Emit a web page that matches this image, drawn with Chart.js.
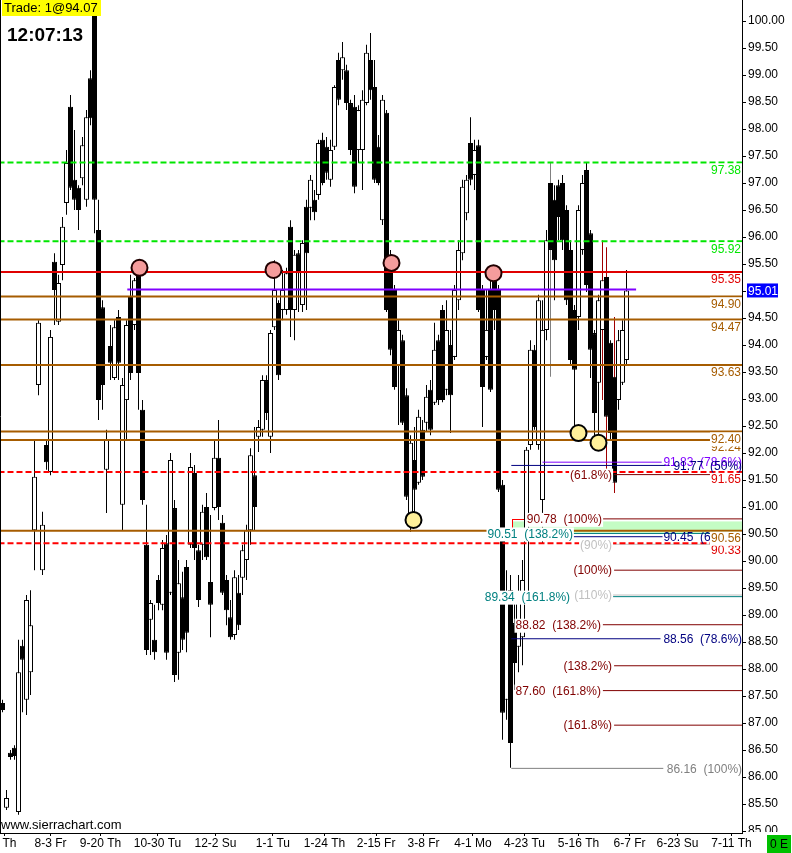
<!DOCTYPE html>
<html>
<head>
<meta charset="utf-8">
<title>Trade chart</title>
<script src="https://cdn.jsdelivr.net/npm/chart.js@4.4.1/dist/chart.umd.min.js"></script>
<style>
  html, body { margin: 0; padding: 0; background: #ffffff; }
  #wrap { position: relative; width: 792px; height: 853px; }
  canvas { display: block; }
</style>
</head>
<body>
<div id="wrap"><canvas id="priceChart" width="792" height="853"></canvas></div>
<script>
'use strict';

/* ── Bars (one per slot, left to right) ───── */
const HIGH = [
  87.43, 85.76, 86.50, 86.59, 88.54, 88.54, 89.37, 89.46, 92.24, 94.46,
  90.91, 92.24, 94.28, 95.70, 95.30, 96.37, 97.61, 98.63, 97.98, 96.96,
  97.85, 98.35, 99.09, 100.39, 96.69, 94.83, 92.43, 94.37, 94.46, 94.65,
  93.39, 94.46, 95.30, 95.24, 95.54, 92.98, 91.04, 89.28, 89.19, 89.74,
  90.39, 90.48, 92.00, 91.13, 90.02, 89.80, 90.02, 92.00, 91.78, 90.30,
  91.04, 91.26, 90.85, 92.24, 92.61, 90.85, 89.74, 89.28, 89.83, 89.74,
  90.30, 90.67, 92.09, 92.48, 92.61, 93.44, 93.44, 94.28, 95.57, 94.83,
  95.39, 95.43, 96.31, 95.76, 95.76, 95.94, 96.69, 97.15, 96.87, 97.80,
  97.93, 97.85, 97.80, 98.81, 99.41, 99.61, 99.19, 98.54, 98.63, 98.44,
  98.72, 99.56, 99.78, 99.28, 97.89, 98.63, 98.35, 95.76, 95.11, 94.46,
  94.19, 93.20, 92.33, 92.48, 92.80, 92.61, 93.26, 93.35, 94.41, 94.19,
  94.74, 94.83, 94.28, 95.11, 95.94, 97.06, 97.15, 98.22, 97.80, 97.80,
  95.11, 95.02, 95.30, 95.48, 95.11, 91.50, 89.83, 89.74, 89.28, 89.74,
  90.02, 92.11, 94.09, 94.00, 94.93, 94.83, 96.13, 97.39, 96.96, 97.06,
  97.15, 96.59, 95.94, 94.74, 96.59, 97.15, 97.39, 96.13, 94.28, 94.93,
  95.94, 95.81, 94.09, 94.52, 94.28, 94.46, 95.39
];
const LOW = [
  87.20, 85.39, 86.32, 86.32, 85.30, 87.20, 87.15, 87.52, 89.83, 93.07,
  89.74, 91.69, 91.59, 94.37, 94.37, 95.20, 96.41, 96.87, 96.50, 96.13,
  96.96, 96.56, 98.07, 96.07, 92.61, 92.80, 90.89, 93.35, 93.35, 93.35,
  90.57, 92.24, 93.35, 94.28, 92.80, 91.04, 88.26, 88.26, 88.17, 89.09,
  89.09, 88.17, 89.37, 87.76, 87.80, 88.35, 88.31, 90.24, 90.02, 89.15,
  90.02, 90.02, 88.59, 90.94, 90.76, 89.37, 88.81, 88.54, 88.54, 88.72,
  89.37, 89.65, 90.30, 90.57, 92.02, 92.30, 92.61, 92.00, 94.28, 93.35,
  94.46, 94.56, 94.15, 94.09, 94.61, 94.61, 94.65, 96.31, 96.31, 96.69,
  96.96, 97.06, 96.93, 97.61, 98.44, 98.91, 98.35, 97.52, 96.81, 97.37,
  96.87, 98.44, 98.54, 97.00, 96.96, 96.22, 94.61, 93.81, 93.17, 92.52,
  92.52, 91.13, 90.54, 90.76, 91.41, 91.50, 92.39, 92.33, 92.89, 92.89,
  92.94, 93.07, 92.37, 93.72, 94.65, 95.57, 96.31, 96.96, 96.87, 94.61,
  92.48, 93.72, 93.13, 94.28, 91.28, 86.69, 87.06, 86.17, 87.61, 87.94,
  88.07, 89.28, 92.06, 92.43, 92.06, 90.33, 94.09, 93.41, 94.83, 95.94,
  95.76, 94.74, 93.63, 92.37, 94.28, 95.67, 94.98, 93.39, 92.24, 92.19,
  92.98, 91.69, 92.24, 91.26, 92.80, 93.26, 93.63
];
const OPEN = [
  87.37, 85.43, 86.45, 86.54, 85.35, 88.43, 87.43, 87.94, 90.57, 93.26,
  89.83, 92.15, 91.65, 95.54, 94.43, 95.48, 96.63, 98.41, 97.06, 96.91,
  97.09, 96.69, 98.94, 100.11, 96.13, 94.70, 91.69, 93.98, 93.39, 94.52,
  91.04, 92.98, 94.89, 94.37, 95.45, 92.80, 90.30, 88.91, 88.54, 89.65,
  89.19, 90.33, 89.41, 90.98, 88.30, 89.33, 89.89, 90.30, 91.63, 90.20,
  90.30, 91.00, 89.61, 90.98, 91.91, 90.71, 89.65, 88.96, 88.63, 89.41,
  89.69, 90.02, 90.57, 91.59, 92.30, 92.43, 93.35, 92.30, 94.33, 94.78,
  94.65, 94.65, 96.19, 94.65, 95.70, 94.74, 96.56, 96.54, 96.69, 96.78,
  97.80, 97.67, 97.06, 97.67, 99.28, 99.09, 99.09, 98.48, 98.41, 97.61,
  97.61, 98.48, 99.28, 98.78, 97.67, 96.31, 98.30, 95.57, 95.02, 93.63,
  94.09, 93.07, 90.67, 91.87, 91.45, 92.43, 92.56, 93.17, 92.93, 94.09,
  94.65, 93.17, 94.00, 93.78, 94.83, 95.70, 96.44, 97.74, 97.15, 97.70,
  95.02, 93.78, 95.02, 95.33, 95.02, 91.41, 87.43, 89.46, 88.85, 88.41,
  88.59, 89.37, 92.15, 93.91, 92.15, 91.13, 94.28, 97.00, 96.69, 96.96,
  97.00, 96.50, 95.76, 94.65, 94.52, 95.76, 97.24, 96.07, 94.22, 93.30,
  94.28, 95.26, 94.04, 93.41, 92.98, 93.30, 93.72
];
const CLOSE = [
  87.24, 85.61, 86.37, 86.39, 87.94, 88.17, 89.28, 88.81, 91.56, 94.41,
  90.67, 91.83, 94.15, 95.02, 95.15, 96.19, 97.37, 96.91, 96.69, 96.50,
  97.70, 98.22, 98.20, 96.69, 92.98, 93.26, 92.24, 93.67, 94.33, 93.67,
  93.26, 94.37, 93.48, 95.20, 93.48, 91.13, 88.35, 89.22, 88.31, 89.22,
  90.24, 88.30, 91.87, 87.89, 89.59, 88.54, 88.67, 91.74, 90.24, 89.28,
  90.91, 90.07, 89.19, 91.91, 91.00, 89.41, 89.09, 88.59, 89.70, 88.81,
  90.20, 90.57, 91.96, 91.00, 92.48, 93.35, 92.74, 94.22, 95.02, 93.44,
  95.02, 95.33, 94.65, 95.67, 95.33, 95.89, 95.70, 97.06, 96.46, 97.74,
  97.00, 97.19, 97.61, 98.78, 98.54, 99.33, 98.48, 97.61, 96.93, 98.35,
  98.54, 99.41, 98.72, 97.06, 97.00, 98.54, 94.65, 93.91, 93.22, 94.28,
  92.56, 91.19, 92.19, 91.32, 92.67, 91.56, 93.04, 92.43, 93.91, 92.98,
  92.98, 94.28, 93.07, 95.02, 95.76, 96.93, 97.06, 97.06, 97.61, 94.65,
  93.22, 94.28, 93.17, 94.65, 91.32, 87.19, 89.28, 86.63, 88.11, 89.33,
  89.65, 92.06, 93.91, 92.48, 94.83, 94.28, 95.94, 95.76, 95.57, 96.37,
  95.94, 94.83, 93.72, 93.54, 96.50, 97.00, 95.11, 93.91, 92.74, 94.83,
  95.20, 92.67, 92.37, 91.45, 94.09, 94.28, 95.01
];
const RED_WICK_BARS  = [150, 151, 153];
const GRAY_WICK_BARS = [137];

/* ── Date axis ────────────────────────────── */
const DATE_TICKS  = [0.5, 12, 24.5, 38.75, 53.25, 67.6, 80.5, 93.4, 105.25, 117.6, 130.5, 144, 156.75, 168.75, 182.25];
const DATE_LABELS = ['7 Th', '8-3 Fr', '9-20 Th', '10-30 Tu', '12-2 Su', '1-1 Tu', '1-24 Th', '2-15 Fr', '3-8 Fr', '4-1 Mo', '4-23 Tu', '5-16 Th', '6-7 Fr', '6-23 Su', '7-11 Th'];

/* ── Horizontal levels (full width) ───────── */
const LEVEL_PRICE = [97.38, 95.92, 95.35, 94.90, 94.47, 93.63, 92.40, 92.24, 91.65, 90.56, 90.33];
const LEVEL_KIND  = ['green', 'green', 'red', 'brown', 'brown', 'brown', 'brown', 'brown', 'redDash', 'brown', 'redDash'];

const LAST_PRICE   = 95.01;
const PURPLE_LEVEL = 95.03;

/* ── Fibonacci projections ────────────────── */
const FIB_PRICE = [91.83, 91.77, 91.60, 90.78, 90.51, 90.45, 90.31, 89.83, 89.37, 89.34, 88.82, 88.56, 88.06, 87.60, 86.96, 86.16];
const FIB_TEXT  = ['91.83  (78.6%)', '91.77  (50%)', '(61.8%)', '90.78  (100%)', '90.51  (138.2%)', '90.45  (61.8%)',
                   '(90%)', '(100%)', '(110%)', '89.34  (161.8%)', '88.82  (138.2%)', '88.56  (78.6%)',
                   '(138.2%)', '87.60  (161.8%)', '(161.8%)', '86.16  (100%)'];
const ZONE_TOP = 90.77, ZONE_BOTTOM = 90.54, ZONE_FROM = 127.4;

/* ── Marked touches ───────────────────────── */
const PINK_AT   = [34.25, 67.75, 97.25, 122.75];
const PINK_VAL  = [95.43, 95.39, 95.52, 95.33];
const YELLOW_AT  = [102.75, 144, 149];
const YELLOW_VAL = [90.76, 92.37, 92.19];

/* ── Styles ───────────────────────────────── */
const FONT = "'Liberation Sans', Arial, sans-serif";
const C = {
  green: '#00e600', red: '#e00000', brown: '#a65c00', purple: '#8000ff',
  navy: '#000080', darkRed: '#800000', teal: '#008080', silver: '#c0c0c0', gray: '#808080'
};
const LEVEL_STYLE = {
  green:   { color: C.green, dash: [6, 3] },
  red:     { color: C.red,   dash: [] },
  brown:   { color: C.brown, dash: [] },
  redDash: { color: '#ff0000', dash: [6, 3] },
};
const LEVEL_TEXT_COLOR = { green: C.green, red: C.red, brown: C.brown, redDash: C.red };

// per fib line: colour, line start, line end, text right edge (x in bar slots), white box behind text
const FIB_STYLE = [
  { color: C.purple,  from: 135.0, to: 164.8, textEnd: 184.9, box: false },
  { color: C.navy,    from: 127.2, to: 166.8, textEnd: 184.9, box: false },
  { color: C.darkRed, from: 152.9, to: 185,   textEnd: 152.4, box: true },
  { color: C.darkRed, from: 149.9, to: 185,   textEnd: 149.9, box: true },
  { color: C.teal,    from: 142.6, to: 185,   textEnd: 142.6, box: true },
  { color: C.navy,    from: 127.4, to: 165.0, textEnd: 184.9, box: false },
  { color: C.silver,  from: 152.6, to: 185,   textEnd: 152.4, box: true },
  { color: C.darkRed, from: 152.9, to: 185,   textEnd: 152.4, box: true },
  { color: C.silver,  from: 152.6, to: 185,   textEnd: 152.4, box: true },
  { color: C.teal,    from: 152.6, to: 185,   textEnd: 141.9, box: true },
  { color: C.darkRed, from: 150.1, to: 185,   textEnd: 149.6, box: true },
  { color: C.navy,    from: 127.2, to: 164.5, textEnd: 184.9, box: false },
  { color: C.darkRed, from: 152.9, to: 185,   textEnd: 152.4, box: true },
  { color: C.darkRed, from: 150.1, to: 185,   textEnd: 149.6, box: true },
  { color: C.darkRed, from: 152.9, to: 185,   textEnd: 152.4, box: true },
  { color: C.gray,    from: 127.2, to: 165.2, textEnd: 184.9, box: false },
];

/* ── Helpers ──────────────────────────────── */
function hLine(price, from, to, color, width, dash) {
  return {
    type: 'line',
    data: [{ x: from, y: price }, { x: to, y: price }],
    borderColor: color, borderWidth: width, borderDash: dash || [],
    pointRadius: 0, fill: false, order: 5,
  };
}
function wickColor(i) {
  if (RED_WICK_BARS.includes(i)) return '#a00000';
  if (GRAY_WICK_BARS.includes(i)) return '#808080';
  return '#000000';
}
function textBox(ctx, text, xRight, yMid, color, box) {
  const w = ctx.measureText(text).width;
  if (box) {
    ctx.fillStyle = '#ffffff';
    ctx.fillRect(xRight - w - 1, yMid - 7, w + 2, 14);
  }
  ctx.fillStyle = color;
  ctx.fillText(text, xRight, yMid);
}

/* ── Overlay drawing ──────────────────────── */
const overlay = {
  id: 'overlay',
  beforeDatasetsDraw(chart) {
    const { ctx, scales: { x, y }, chartArea } = chart;
    ctx.save();
    const x0 = x.getPixelForValue(ZONE_FROM);
    const yT = y.getPixelForValue(ZONE_TOP), yB = y.getPixelForValue(ZONE_BOTTOM);
    ctx.fillStyle = '#c4fcc4';
    ctx.fillRect(x0, yT + 2, chartArea.right - x0, yB - yT - 1);
    ctx.strokeStyle = '#ff0000';
    ctx.lineWidth = 1;
    ctx.strokeRect(Math.round(x0) + 0.5, Math.round(yT) + 0.5, 13, Math.round(y.getPixelForValue(90.45) - yT));
    ctx.restore();
  },
  afterDatasetsDraw(chart) {
    const { ctx, scales: { x, y }, chartArea } = chart;
    ctx.save();
    ctx.font = `12px ${FONT}`;
    ctx.textAlign = 'right';
    ctx.textBaseline = 'middle';
    FIB_PRICE.forEach((p, k) => {
      const s = FIB_STYLE[k];
      textBox(ctx, FIB_TEXT[k], x.getPixelForValue(s.textEnd), y.getPixelForValue(p) + 1, s.color, s.box);
    });
    // price labels under each level, drawn low to high
    LEVEL_PRICE.map((p, k) => k).sort((a, b) => LEVEL_PRICE[a] - LEVEL_PRICE[b]).forEach(k => {
      const p = LEVEL_PRICE[k];
      textBox(ctx, p.toFixed(2), chartArea.right - 1, y.getPixelForValue(p) + 8,
        LEVEL_TEXT_COLOR[LEVEL_KIND[k]], true);
    });
    ctx.restore();
  },
  afterDraw(chart) {
    const { ctx, scales: { y }, chartArea } = chart;
    ctx.save();
    // left frame line
    ctx.strokeStyle = '#000';
    ctx.lineWidth = 1;
    ctx.beginPath(); ctx.moveTo(0.5, 0); ctx.lineTo(0.5, chartArea.bottom); ctx.stroke();

    // price scale is cut at the bottom of the plot (keep the last date label)
    ctx.fillStyle = '#ffffff';
    ctx.fillRect(chartArea.right + 4, chartArea.bottom - 1, 50, 5);
    ctx.fillRect(chartArea.right + 13, chartArea.bottom - 1, 40, 22);

    ctx.textBaseline = 'middle';
    ctx.textAlign = 'left';
    // trade box
    ctx.font = `13px ${FONT}`;
    ctx.fillStyle = '#ffff00';
    ctx.fillRect(2, 0, 99, 16);
    ctx.fillStyle = '#000';
    ctx.fillText('Trade: 1@94.07', 4, 8);
    // clock
    ctx.font = `bold 19px ${FONT}`;
    ctx.fillText('12:07:13', 7, 36);
    // watermark
    ctx.font = `13px ${FONT}`;
    ctx.fillText('www.sierrachart.com', 1, 825);

    // last price box on the axis
    const yp = y.getPixelForValue(LAST_PRICE);
    ctx.fillStyle = '#0000ff';
    ctx.fillRect(747, yp - 7, 31, 14);
    ctx.fillStyle = '#ffffff';
    ctx.font = `12px ${FONT}`;
    ctx.fillText(LAST_PRICE.toFixed(2), 748, yp + 1);

    // status box
    ctx.fillStyle = '#00c000';
    ctx.fillRect(767, 835, 24, 18);
    ctx.fillStyle = '#000';
    ctx.textAlign = 'center';
    ctx.fillText('0 E', 779, 845);
    ctx.restore();
  },
};

/* ── Datasets ─────────────────────────────── */
const slots = HIGH.map((_, i) => i);

const datasets = [
  {
    type: 'line', showLine: false, order: 1,
    data: PINK_AT.map((v, k) => ({ x: v, y: PINK_VAL[k] })),
    pointRadius: 8, pointBackgroundColor: '#f59c9c', pointBorderColor: '#200000', pointBorderWidth: 2,
  },
  {
    type: 'line', showLine: false, order: 1,
    data: YELLOW_AT.map((v, k) => ({ x: v, y: YELLOW_VAL[k] })),
    pointRadius: 8, pointBackgroundColor: '#fff09a', pointBorderColor: '#000000', pointBorderWidth: 2,
  },
  ...LEVEL_PRICE.map((p, k) => {
    const st = LEVEL_STYLE[LEVEL_KIND[k]];
    return hLine(p, -1, 186, st.color, 2, st.dash);
  }),
  hLine(PURPLE_LEVEL, 31.2, 158.4, C.purple, 2),
  ...FIB_PRICE.map((p, k) => hLine(p, FIB_STYLE[k].from, FIB_STYLE[k].to, FIB_STYLE[k].color, 1)),
  {
    type: 'bar', order: 10, grouped: false,
    data: slots.map(i => ({ x: i, y: [LOW[i], HIGH[i]] })),
    backgroundColor: slots.map(wickColor),
    borderWidth: 0, barThickness: 1, inflateAmount: 0,
  },
  {
    type: 'bar', order: 9, grouped: false,
    data: slots.map(i => ({ x: i, y: [OPEN[i], CLOSE[i]] })),
    backgroundColor: slots.map(i => CLOSE[i] >= OPEN[i] ? '#ffffff' : '#000000'),
    borderColor: '#000000', borderWidth: 1, borderSkipped: false,
    barThickness: 5, inflateAmount: 0, minBarLength: 1,
  },
];

/* ── Chart ────────────────────────────────── */
new Chart(document.getElementById('priceChart').getContext('2d'), {
  type: 'bar',
  data: { datasets },
  plugins: [overlay],
  options: {
    responsive: false,
    animation: false,
    devicePixelRatio: 1,
    events: [],
    layout: { padding: 0, autoPadding: false },
    plugins: { legend: { display: false }, tooltip: { enabled: false } },
    scales: {
      x: {
        type: 'linear', position: 'bottom', offset: false,
        min: -0.625, max: 184.875,
        afterBuildTicks: s => { s.ticks = DATE_TICKS.map(v => ({ value: v })); },
        afterFit: s => { s.height = 20; s.paddingLeft = 0; s.paddingRight = 0; },
        ticks: {
          autoSkip: false, maxRotation: 0, minRotation: 0, padding: 0,
          color: '#000', font: { family: FONT, size: 12 },
          callback: (v, i) => DATE_LABELS[i],
        },
        grid: { offset: false, drawOnChartArea: false, drawTicks: true, tickLength: 3, color: '#000' },
        border: { display: true, color: '#000', width: 1 },
      },
      y: {
        position: 'right',
        min: 84.963, max: 100.389,
        afterFit: s => { s.width = 50; s.paddingTop = 0; s.paddingBottom = 0; },
        ticks: {
          stepSize: 0.5, includeBounds: false, padding: 2,
          color: '#000', font: { family: FONT, size: 12 },
          callback: v => Number(v).toFixed(2),
        },
        grid: { drawOnChartArea: false, drawTicks: true, tickLength: 4, color: '#000' },
        border: { display: true, color: '#000', width: 1 },
      },
    },
  },
});
</script>
</body>
</html>
